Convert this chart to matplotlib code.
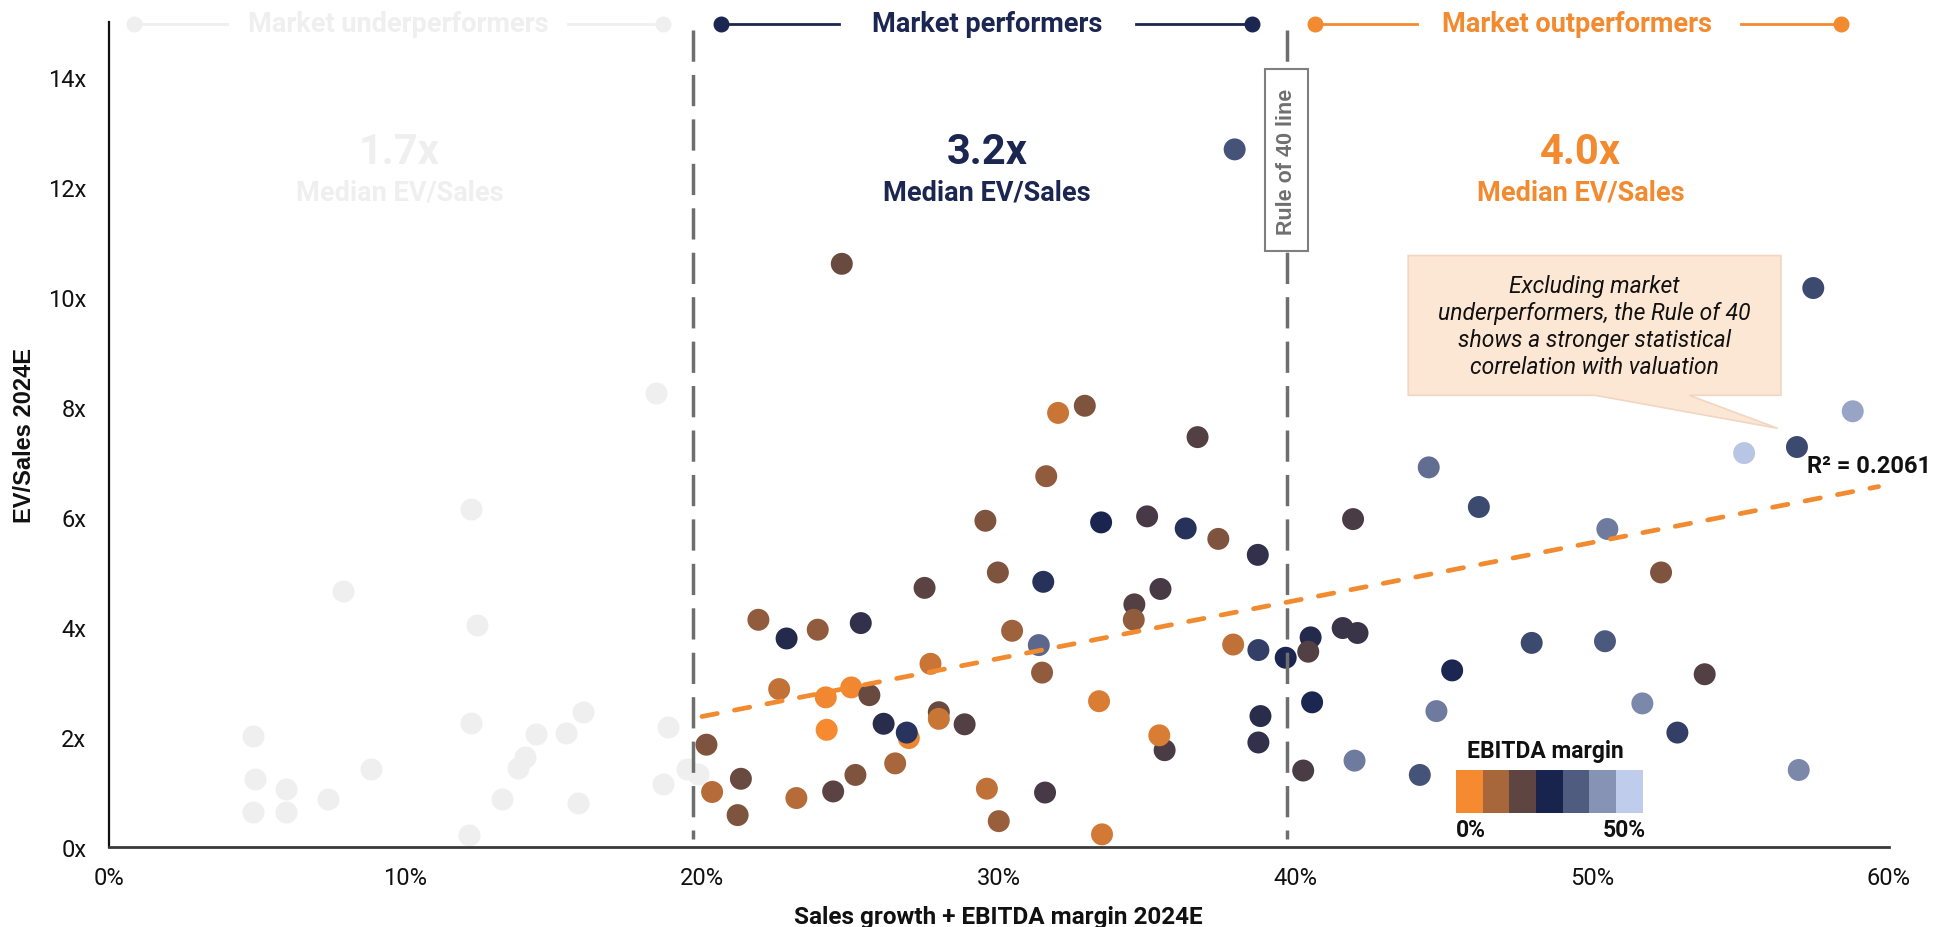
import matplotlib
matplotlib.use("Agg")
import matplotlib.pyplot as plt
from matplotlib import font_manager as fm
from matplotlib.colors import LinearSegmentedColormap, ListedColormap, Normalize
from matplotlib.patches import Polygon, Rectangle
import numpy as np

# ---------------------------------------------------------------- data
# Market underperformers (grey): Rule-of-40 score (%) and EV/Sales 2024E (x)
under_x = [18.45, 12.22, 7.90, 12.43, 4.86, 12.23, 15.98, 14.42, 15.42, 18.87,
           14.04, 13.80, 8.86, 4.92, 5.99, 7.39, 13.27, 4.86, 5.97, 15.83,
           18.67, 12.14, 19.50, 19.85]
under_y = [8.26, 6.15, 4.66, 4.03, 2.02, 2.25, 2.45, 2.05, 2.07, 2.18,
           1.63, 1.43, 1.41, 1.23, 1.05, 0.88, 0.88, 0.64, 0.63, 0.80,
           1.14, 0.21, 1.42, 1.33]

# Market performers and outperformers: score (%), EV/Sales (x), EBITDA margin (%)
market_x = [32.00, 32.90, 36.70, 31.60, 29.55, 33.45, 35.00, 36.30, 37.40, 38.73,
            29.97, 31.50, 27.50, 35.45, 34.57, 34.55, 21.90, 22.85, 23.90, 25.35,
            30.45, 31.35, 37.90, 38.75, 39.67, 27.70, 31.46, 22.60, 24.17, 25.03,
            25.64, 33.38, 24.20, 26.12, 26.97, 26.90, 27.98, 27.98, 28.85, 38.82,
            35.59, 35.41, 38.75, 20.15, 21.31, 20.34, 21.20, 23.18, 24.42, 25.17,
            26.51, 29.60, 31.56, 30.00, 33.48, 37.95, 24.71,
            58.78, 56.90, 55.12, 44.49, 46.18, 41.94, 50.51, 52.32, 40.51, 41.59,
            42.09, 40.43, 47.96, 50.43, 45.28, 53.79, 40.56, 44.75, 51.69, 52.87,
            40.26, 41.99, 44.19, 56.96, 57.45]
market_y = [7.89, 8.02, 7.45, 6.74, 5.93, 5.90, 6.01, 5.79, 5.60, 5.31,
            4.99, 4.82, 4.71, 4.69, 4.41, 4.13, 4.13, 3.79, 3.95, 4.07,
            3.93, 3.67, 3.68, 3.58, 3.44, 3.33, 3.17, 2.87, 2.72, 2.90,
            2.76, 2.65, 2.13, 2.24, 1.98, 2.08, 2.45, 2.33, 2.23, 2.38,
            1.76, 2.03, 1.90, 1.86, 1.24, 1.00, 0.58, 0.89, 1.01, 1.31,
            1.52, 1.06, 0.99, 0.47, 0.23, 12.68, 10.60,
            7.92, 7.27, 7.16, 6.90, 6.18, 5.96, 5.78, 4.99, 3.81, 3.98,
            3.89, 3.55, 3.71, 3.74, 3.21, 3.14, 2.63, 2.47, 2.61, 2.08,
            1.39, 1.57, 1.31, 1.40, 10.16]
market_margin = [5.0, 13.0, 18.0, 11.0, 13.0, 25.0, 19.5, 27.0, 13.0, 22.0,
                 13.0, 27.0, 17.0, 19.5, 18.0, 11.0, 11.0, 23.5, 11.0, 22.0,
                 9.5, 35.0, 6.0, 29.0, 25.5, 5.0, 11.0, 5.5, 0.5, 0.5,
                 15.5, 3.0, 0.0, 23.0, 1.0, 27.5, 15.5, 5.0, 18.0, 23.0,
                 19.0, 3.0, 22.0, 13.0, 15.5, 7.0, 13.0, 7.0, 17.0, 13.0,
                 8.5, 6.0, 19.5, 10.0, 4.0, 32.0, 15.5,
                 44.0, 30.5, 49.0, 36.0, 30.5, 19.0, 38.0, 13.0, 23.5, 21.0,
                 21.0, 18.0, 30.5, 33.0, 25.5, 18.0, 25.5, 38.0, 40.0, 29.0,
                 19.0, 38.0, 32.0, 40.0, 30.5]

# Segments, their median EV/Sales and the Rule-of-40 split lines
segment_names = ["Market underperformers", "Market performers", "Market outperformers"]
segment_medians = ["1.7x", "3.2x", "4.0x"]
split_lines = [19.7, 39.7]

# Linear fit on performers + outperformers
trend_x = [20.0, 59.65]
trend_slope = 0.1054
trend_intercept = 0.264
trend_r2 = 0.2061

# EBITDA-margin colour scale (0% .. 50%)
margin_colors = ["#F58A30", "#A8663B", "#5E4542", "#18244E", "#4F5C80", "#8793B5", "#C0CCEB"]
margin_range = [0, 50]

x_ticks = [0, 10, 20, 30, 40, 50, 60]
y_ticks = [0, 2, 4, 6, 8, 10, 12, 14]

callout_text = ("Excluding market\nunderperformers, the Rule of 40\n"
                "shows a stronger statistical\ncorrelation with valuation")

# ---------------------------------------------------------------- fonts
available = {f.name for f in fm.fontManager.ttflist}


def first_font(*names):
    for n in names:
        if n in available:
            return n
    return "DejaVu Sans"


MAIN = first_font("Roboto", "Liberation Sans")
SANS = first_font("Liberation Sans", "Arimo", "DejaVu Sans")
plt.rcParams["font.family"] = [MAIN, "DejaVu Sans"]

# ---------------------------------------------------------------- colours
GREY_DOT = "#EFEFEF"
NAVY = "#1B2651"
ORANGE = "#F28A30"
SPLIT_GREY = "#6E6E6E"
segment_colors = [GREY_DOT, NAVY, ORANGE]

cmap = LinearSegmentedColormap.from_list("ebitda", margin_colors)
norm = Normalize(vmin=margin_range[0], vmax=margin_range[1])

# ---------------------------------------------------------------- figure
fig = plt.figure(figsize=(19.35, 9.28), dpi=100)
ax = fig.add_axes([0.0561, 0.0862, 0.9201, 0.8893])
ax.set_xlim(0, 60)
ax.set_ylim(0, 15)

for side in ("top", "right"):
    ax.spines[side].set_visible(False)
ax.spines["left"].set_color("#111111")
ax.spines["left"].set_linewidth(1.6)
ax.spines["bottom"].set_color("#3A3A3A")
ax.spines["bottom"].set_linewidth(2.0)

ax.set_xticks(x_ticks)
ax.set_xticklabels([f"{v}%" for v in x_ticks])
ax.set_yticks(y_ticks)
ax.set_yticklabels([f"{v}x" for v in y_ticks])
ax.tick_params(axis="both", length=0, labelsize=17, colors="#111111")
ax.tick_params(axis="x", pad=14)
ax.tick_params(axis="y", pad=16)

ax.set_xlabel("Sales growth + EBITDA margin 2024E", fontsize=17.5,
              fontweight="bold", color="#111111")
ax.xaxis.set_label_coords(0.5, -0.084)
ax.xaxis.label.set_va("center")
ax.set_ylabel("EV/Sales 2024E", fontsize=17, fontweight="bold",
              family=[SANS, "DejaVu Sans"], color="#111111")
ax.yaxis.set_label_coords(-0.047, 0.5)
ax.yaxis.label.set_va("center")

# ---------------------------------------------------------------- points
dot_size = 250
ax.scatter(under_x, under_y, s=dot_size, color=GREY_DOT, linewidths=0, zorder=2)
ax.scatter(market_x, market_y, s=dot_size, c=market_margin, cmap=cmap, norm=norm,
           linewidths=0, zorder=3)

# Rule-of-40 split lines
for xv in split_lines:
    ax.plot([xv, xv], [14.85, 0.15], color=SPLIT_GREY, lw=2.5,
            dashes=(9.0, 3.8), solid_capstyle="butt", zorder=4)

# Rule of 40 label box on the right split line
ax.add_patch(Rectangle((split_lines[1] - 0.72, 10.83), 1.44, 3.31, facecolor="white",
                       edgecolor="#7F7F7F", lw=1.5, zorder=6))
ax.text(split_lines[1], 12.48, "Rule of 40 line", rotation=90, ha="center", va="center",
        fontsize=15.5, fontweight="bold", family=[SANS, "DejaVu Sans"],
        color="#6F6F6F", zorder=7)

# Trend line and R²
tx = np.array(trend_x)
ax.plot(tx, trend_slope * tx + trend_intercept, color=ORANGE, lw=3.4,
        dashes=(3.3, 3.7), dash_capstyle="round", zorder=5)
ax.text(57.25, 6.93, f"R² = {trend_r2:.4f}", ha="left", va="center",
        fontsize=17, fontweight="bold", color="#111111", zorder=7, clip_on=False)

# ---------------------------------------------------------------- segment headers
header_layout = [
    (0.86, 4.0, 9.77, 15.5, 18.7),
    (20.65, 24.6, 29.6, 34.64, 38.55),
    (40.65, 44.1, 49.5, 55.0, 58.4),
]
big_x = [9.8, 29.6, 49.6]
head_y = 14.96
for name, med, col, (l0, l1, tc, r0, r1), bx in zip(segment_names, segment_medians,
                                                    segment_colors, header_layout, big_x):
    ax.plot([l0, l1], [head_y, head_y], color=col, lw=2.0, clip_on=False, zorder=3)
    ax.plot([r0, r1], [head_y, head_y], color=col, lw=2.0, clip_on=False, zorder=3)
    ax.plot([l0, r1], [head_y, head_y], ls="none", marker="o", ms=10.5, color=col,
            clip_on=False, zorder=3)
    ax.text(tc, head_y, name, ha="center", va="center", fontsize=19.5,
            fontweight="bold", color=col, clip_on=False)
    ax.text(bx, 12.64, med, ha="center", va="center", fontsize=30,
            fontweight="bold", color=col)
    ax.text(bx, 11.9, "Median EV/Sales", ha="center", va="center", fontsize=19.5,
            fontweight="bold", color=col)

# ---------------------------------------------------------------- callout
bubble = [(43.8, 10.75), (56.36, 10.75), (56.36, 8.21), (53.27, 8.21),
          (56.25, 7.61), (50.1, 8.21), (43.8, 8.21)]
ax.add_patch(Polygon(bubble, closed=True, facecolor="#FCE6D4", edgecolor="#F1D6C2",
                     lw=1.2, zorder=6))
ax.text(50.08, 9.47, callout_text, ha="center", va="center", fontsize=16.5,
        style="italic", color="#111111", linespacing=1.22, zorder=7)

# ---------------------------------------------------------------- EBITDA margin key
lax = fig.add_axes([0.7523, 0.1225, 0.0966, 0.047])
lax.imshow([list(range(len(margin_colors)))], cmap=ListedColormap(margin_colors),
           aspect="auto", interpolation="nearest")
lax.axis("off")
fig.text(0.7984, 0.1897, "EBITDA margin", ha="center", va="center", fontsize=16.5,
         fontweight="bold", color="#111111")
fig.text(0.7523, 0.1056, f"{margin_range[0]}%", ha="left", va="center", fontsize=16.5,
         fontweight="bold", color="#111111")
fig.text(0.8506, 0.1056, f"{margin_range[1]}%", ha="right", va="center", fontsize=16.5,
         fontweight="bold", color="#111111")

fig.savefig("out.png", dpi=100, facecolor="white")
